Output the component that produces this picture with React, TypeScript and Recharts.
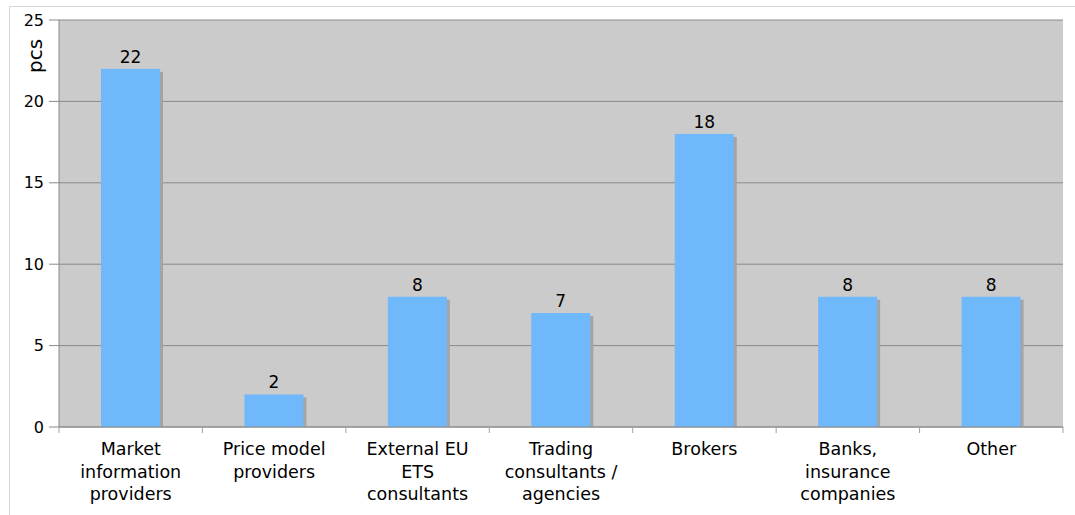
// Information sources — bar chart with drop shadow on bars
import { BarChart, Bar, XAxis, YAxis, CartesianGrid, LabelList } from 'recharts';

const categories = [
  ['Market', 'information', 'providers'],
  ['Price model', 'providers'],
  ['External EU', 'ETS', 'consultants'],
  ['Trading', 'consultants /', 'agencies'],
  ['Brokers'],
  ['Banks,', 'insurance', 'companies'],
  ['Other'],
];
const counts = [22, 2, 8, 7, 18, 8, 8];
const yTicks = [0, 5, 10, 15, 20, 25];

const data = categories.map((lines, i) => ({ name: lines.join(' '), lines, value: counts[i] }));

const FONT = '"DejaVu Sans", Verdana, sans-serif';

// eslint-disable-next-line @typescript-eslint/no-explicit-any
const ShadowBar = (props: any) => {
  const { x, y, width, height } = props;
  if (!height || height <= 0) return null;
  return (
    <g>
      <rect x={x + 3} y={y + 3} width={width} height={Math.max(0, height - 3)} fill="#a4a4a4" />
      <rect x={x} y={y} width={width} height={height} fill="#70b8fc" />
    </g>
  );
};

// tick marks sit on category boundaries, labels in the middle
// eslint-disable-next-line @typescript-eslint/no-explicit-any
const CategoryTick = (props: any) => {
  const { x, y, payload, width } = props;
  const idx = payload.index;
  const lines = categories[idx] ?? [String(payload.value)];
  const band = width / categories.length;
  const top = y - 8;
  return (
    <g>
      <line x1={x - band / 2} x2={x - band / 2} y1={top} y2={top + 6} stroke="#a0a0a0" />
      {idx === categories.length - 1 && (
        <line x1={x + band / 2} x2={x + band / 2} y1={top} y2={top + 6} stroke="#a0a0a0" />
      )}
      <text x={x} y={y + 20} textAnchor="middle" fontFamily={FONT} fontSize={17.5} fill="#000">
        {lines.map((l: string, i: number) => (
          <tspan key={i} x={x} dy={i === 0 ? 0 : 22.5}>{l}</tspan>
        ))}
      </text>
    </g>
  );
};

// eslint-disable-next-line @typescript-eslint/no-explicit-any
const YLabel = (props: any) => {
  const { viewBox } = props;
  const cx = viewBox.x + 35;
  const cy = viewBox.y + 36;
  return (
    <text x={cx} y={cy} transform={`rotate(-90 ${cx} ${cy})`} textAnchor="middle" dominantBaseline="central"
      fontFamily={FONT} fontSize={20} fill="#000">pcs</text>
  );
};

export default function App() {
  return (
    <div style={{ position: 'relative', width: 1075, height: 515, background: '#fff' }}>
      <style>{'body{margin:0}'}</style>
      <div style={{
        position: 'absolute', left: 9, top: 6, right: 0, bottom: 0,
        borderTop: '1px solid #d8d8d8', borderLeft: '1px solid #d8d8d8',
      }} />
      <div style={{ position: 'absolute', left: 0, top: 0 }}>
        <BarChart width={1075} height={515} data={data} margin={{ top: 20, right: 12, bottom: 0, left: 0 }} barSize={59}>
          <CartesianGrid fill="#cbcbcb" stroke="#8a8a8a" vertical={false} />
          <XAxis dataKey="name" interval={0} height={88} tickLine={false} tickSize={6} tickMargin={2}
            axisLine={{ stroke: '#8a8a8a' }} tick={<CategoryTick />} />
          <YAxis domain={[0, 25]} ticks={yTicks} width={59} tickSize={10} tickMargin={5}
            axisLine={{ stroke: '#8a8a8a' }} tickLine={{ stroke: '#8a8a8a' }}
            tick={{ fontFamily: FONT, fontSize: 16, fill: '#000' }} label={<YLabel />} />
          <YAxis yAxisId="r" orientation="right" width={0} tick={false} tickLine={false}
            axisLine={{ stroke: '#7a7a7a', strokeWidth: 2 }} />
          <Bar dataKey="value" shape={<ShadowBar />} isAnimationActive={false}>
            <LabelList dataKey="value" position="top" offset={6}
              style={{ fontFamily: FONT, fontSize: 17, fill: '#000' }} />
          </Bar>
        </BarChart>
      </div>
    </div>
  );
}
